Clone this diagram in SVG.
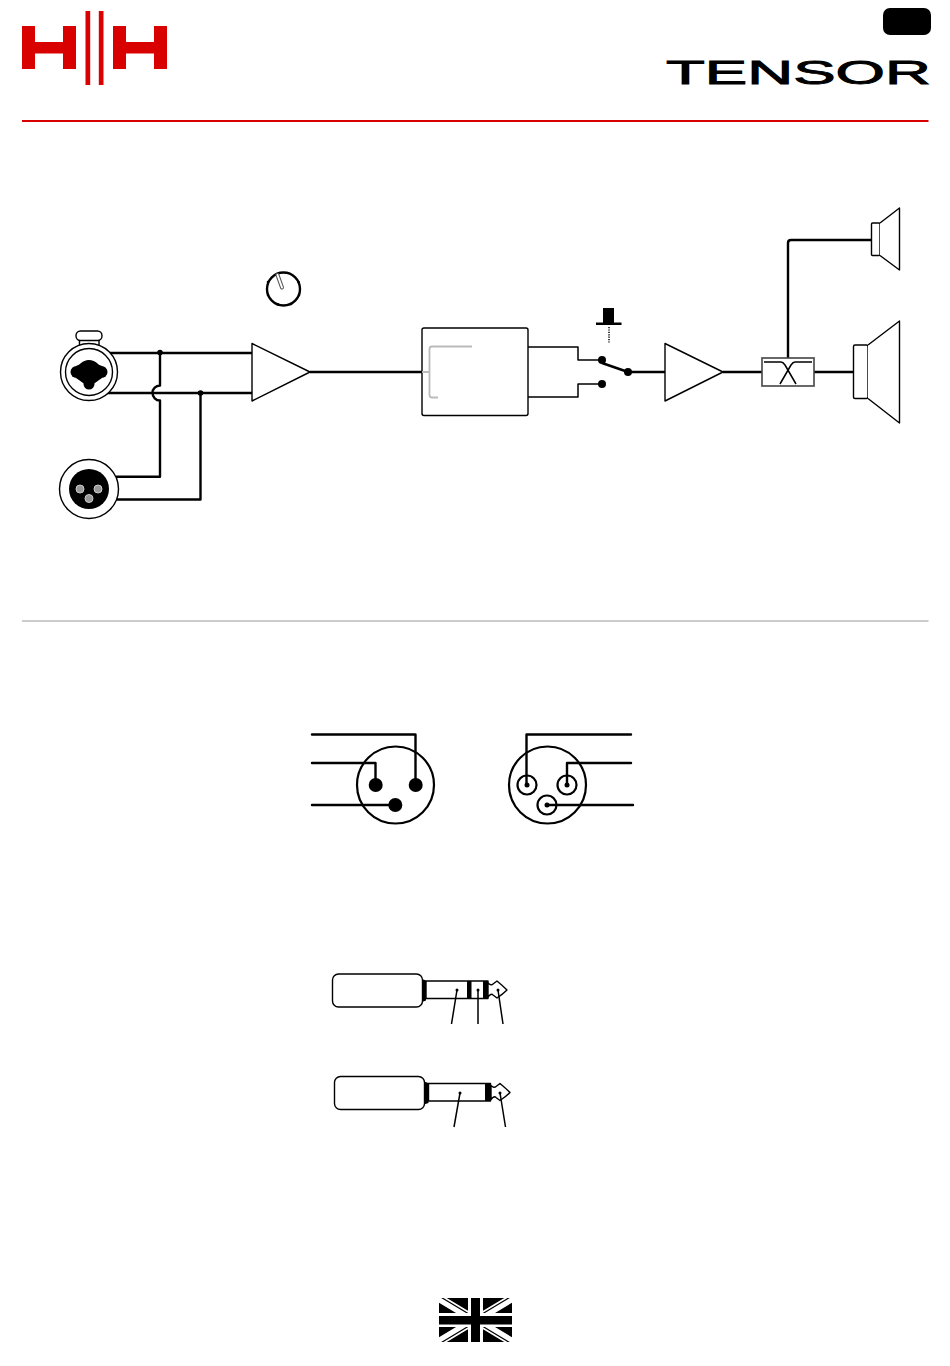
<svg xmlns="http://www.w3.org/2000/svg" width="950" height="1366" viewBox="0 0 950 1366">
<style>
.w{fill:none;stroke:#000;stroke-width:2.400;stroke-linejoin:round}
.t{fill:none;stroke:#000;stroke-width:1.500;stroke-linejoin:round}
.n{fill:#fff;stroke:#000;stroke-width:1.400;stroke-linejoin:round}
.r{fill:#d90000}
.b{fill:#000}
.g{fill:none;stroke:#bbb;stroke-width:1.800;stroke-linejoin:round}
.p{fill:#999;stroke:#ccc;stroke-width:1}
.c{fill:#fff;stroke:#000;stroke-width:2.200}
</style>
<defs><clipPath id="fc"><rect x="439" y="1298" width="73" height="44"/></clipPath></defs>
<rect width="950" height="1366" fill="#fff"/>
<g id="hh-logo">
<path class="r" d="M22 26h13v16h28v-16h13v43h-13v-15.500h-28v15.500h-13zM113 26h13v16h28v-16h13v43h-13v-15.500h-28v15.500h-13z"/>
<rect class="r" x="85.500" y="11" width="4.700" height="74"/>
<rect class="r" x="98.800" y="11" width="4.700" height="74"/>
</g>
<g id="badge"><rect class="b" x="883" y="8" width="48" height="27" rx="7"/></g>
<g id="tensor-logo"><text transform="translate(666 83.500) scale(1.87 1)" font-family="Liberation Sans, sans-serif" font-size="34" stroke="#000" stroke-width="0.900">TENSOR</text></g>
<rect id="rule-top" x="22" y="120" width="906.500" height="2" fill="#d90000"/>
<rect id="rule-mid" x="22" y="620" width="906.500" height="2" fill="#ccc"/>

<g id="connectors">
<path class="w" d="M107 353H252M107 393H252M160 353V385.500A7.500 7.500 0 0 0 160 400.500V476.700H116M200.500 393V499.500H116"/>
<circle class="b" cx="160" cy="352.500" r="2.800"/><circle class="b" cx="200.500" cy="393" r="2.800"/>
<path class="w" d="M310 372H422"/>
<path class="t" d="M528 347H578V360H602M528 397H578V384H602"/>
<path class="w" d="M602 363L628 372H665M723 372H762M814 372H854M788 358V243Q788 240 791 240H872"/>
</g>

<g id="combo-input">
<circle class="n" cx="89" cy="372" r="28.500"/><circle class="n" cx="89" cy="372" r="23.500"/>
<path class="n" d="M79.500 340V345M99 340V345"/>
<rect class="n" x="76" y="331" width="26" height="9.500" rx="4.500"/>
<g class="b"><circle cx="89" cy="372" r="12"/><circle cx="76.500" cy="372" r="6"/><circle cx="101.500" cy="372" r="6"/><circle cx="89" cy="384" r="5.500"/><path d="M76 366L88 360.500L102 366V378L92 385H86L76 378Z"/></g>
</g>
<g id="xlr-input">
<circle class="n" cx="89" cy="489" r="29.500"/><circle class="b" cx="89" cy="489" r="20"/>
<circle class="p" cx="80" cy="489" r="4"/><circle class="p" cx="98" cy="489" r="4"/><circle class="p" cx="89" cy="498.500" r="4"/>
</g>
<g id="knob">
<circle cx="283.500" cy="289" r="16.500" fill="#fff" stroke="#000" stroke-width="2.400"/>
<path d="M277.500 275L282 287.500" stroke="#555" stroke-width="4" stroke-linecap="round"/>
<path d="M277.500 275L282 287.500" stroke="#fff" stroke-width="2" stroke-linecap="round"/>
<g class="b"><circle cx="299" cy="295" r="1.300"/><circle cx="291" cy="304" r="1.300"/><circle cx="278" cy="304.500" r="1.300"/><circle cx="268" cy="295" r="1.300"/><circle cx="268" cy="282" r="1.300"/><circle cx="298.500" cy="282" r="1.300"/></g>
</g>
<g id="preamp"><path class="n" d="M252 343.500L310 372L252 401Z"/></g>
<g id="dsp-box">
<rect class="n" x="422" y="328" width="106" height="87.500" rx="2"/>
<path class="g" d="M472 346.500H432Q429.500 346.500 429.500 349V395Q429.500 397.500 432 397.500H438M422 372H429.500"/>
</g>
<g id="switch">
<circle class="b" cx="602" cy="360" r="4"/><circle class="b" cx="602" cy="384" r="4"/><circle class="b" cx="628" cy="372" r="4"/>
<rect class="b" x="603" y="308" width="11" height="15"/><rect class="b" x="596" y="322.500" width="25.500" height="2.500"/>
<path d="M609 327V343" stroke="#000" stroke-width="1.500" stroke-dasharray="1.200 1.200" fill="none"/>
</g>
<g id="power-amp"><path class="n" d="M665 343.500L723 372L665 401Z"/></g>
<g id="crossover">
<rect x="762" y="358" width="52" height="28" fill="#fff" stroke="#444" stroke-width="1.600"/>
<path class="t" d="M764 362H781Q783 362 785 365L796 384M812 362H795Q793 362 791 365L780 384"/>
</g>
<g id="tweeter">
<rect class="n" x="871.500" y="223" width="8.500" height="32.500" rx="1"/>
<path class="n" d="M880 223L899.500 208V270L880 255.500"/>
</g>
<g id="woofer">
<rect class="n" x="853.500" y="345" width="14.500" height="53.500" rx="1.500"/>
<path class="n" d="M868 345L899.500 321V423L868 398.500"/>
</g>

<g id="xlr-male">
<circle class="c" cx="395.500" cy="785" r="38.500"/>
<circle class="b" cx="375.700" cy="785" r="7"/><circle class="b" cx="415.700" cy="785" r="7"/><circle class="b" cx="395.300" cy="805" r="7"/>
<path class="w" d="M312 734.500H415.500V785M312 763H375.500V785M312 805H395" stroke-linecap="round"/>
</g>
<g id="xlr-female">
<circle class="c" cx="547.500" cy="785" r="38.500"/>
<circle class="c" cx="527" cy="785" r="9.500"/><circle class="c" cx="567" cy="785" r="9.500"/><circle class="c" cx="547" cy="805" r="9.500"/>
<circle class="b" cx="527" cy="785" r="2.500"/><circle class="b" cx="567" cy="785" r="2.500"/><circle class="b" cx="547" cy="805" r="2.500"/>
<path class="w" d="M631 734.500H526.500V785M631 763H567V785M633 805H547" stroke-linecap="round"/>
</g>

<g id="trs-plug">
<rect class="n" x="332.500" y="974" width="90" height="33" rx="6"/>
<path class="b" d="M422 979L426 980.500V1000.500L422 1002Z"/>
<rect class="n" x="426" y="981" width="62" height="17.500"/>
<rect class="b" x="467" y="981" width="4.500" height="17.500"/><rect class="b" x="483" y="981" width="5" height="17.500"/>
<path class="n" stroke-width="1.600" d="M488 983Q491 986 493 984L497 981Q503 986 507 990Q503 994 497 998L493 995Q491 993 488 997Z"/>
<path class="t" d="M457 990L451.500 1024M478 990V1024M498 990L503 1024" stroke-width="1"/>
<circle class="b" cx="457" cy="990" r="1.500"/><circle class="b" cx="478" cy="990" r="1.500"/><circle class="b" cx="498" cy="990" r="1.500"/>
</g>
<g id="ts-plug">
<rect class="n" x="334.500" y="1076.500" width="90" height="33" rx="6"/>
<path class="b" d="M424 1081.500L428.500 1083V1103L424 1104.500Z"/>
<rect class="n" x="428.500" y="1083.500" width="62" height="17.500"/>
<rect class="b" x="485" y="1083.500" width="6" height="17.500"/>
<path class="n" stroke-width="1.600" d="M491 1085.500Q494 1088.500 496 1086.500L500 1083.500Q506 1088.500 510 1092.500Q506 1096.500 500 1100.500L496 1097.500Q494 1095.500 491 1099.500Z"/>
<path class="t" d="M460 1093L454 1127M500 1093L505.500 1127" stroke-width="1"/>
<circle class="b" cx="460" cy="1093" r="1.500"/><circle class="b" cx="500" cy="1093" r="1.500"/>
</g>

<g id="uk-flag">
<rect class="b" x="439" y="1298" width="73" height="44"/>
<g clip-path="url(#fc)">
<path d="M439 1298L512 1342M512 1298L439 1342" stroke="#fff" stroke-width="8"/>
<path d="M439 1296L475.500 1318M475.500 1322L512 1344M512 1296L475.500 1318M475.500 1322L439 1344" stroke="#000" stroke-width="1.200"/>
</g>
<rect x="468" y="1298" width="15" height="44" fill="#fff"/><rect x="439" y="1313" width="73" height="14" fill="#fff"/>
<rect class="b" x="471" y="1298" width="9" height="44"/><rect class="b" x="439" y="1316" width="73" height="8.500"/>
</g>
</svg>
